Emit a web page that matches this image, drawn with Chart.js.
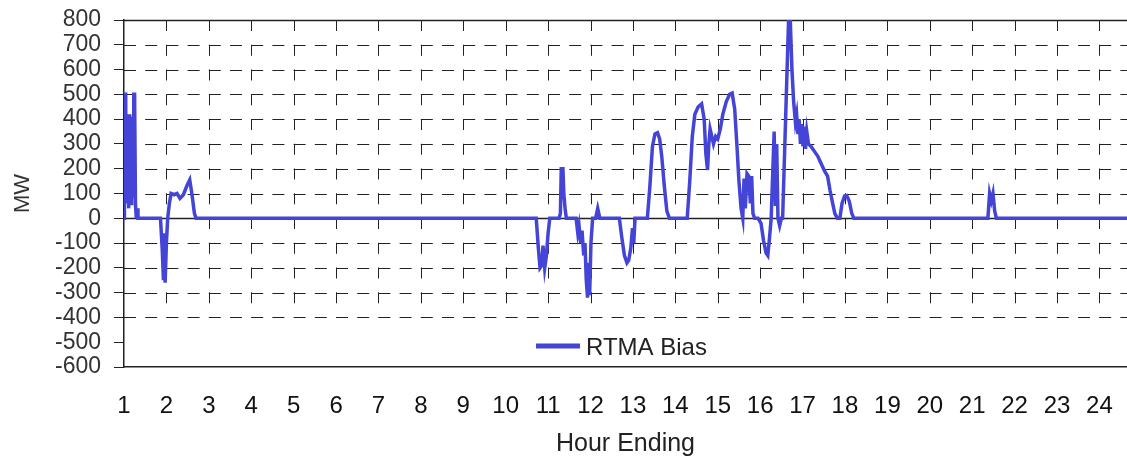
<!DOCTYPE html>
<html>
<head>
<meta charset="utf-8">
<title>RTMA Bias</title>
<script src="https://cdn.jsdelivr.net/npm/chart.js@4/dist/chart.umd.min.js"></script>
<style>
  body { margin: 0; background: #fff; }
  #wrap { width: 1127px; height: 460px; }
</style>
</head>
<body>
<div id="wrap"><canvas id="biasChart" width="1127" height="460"></canvas></div>
<script>
// hour of day (fractional) and RTMA bias in MW
const hours = [
  1.00, 1.005, 1.015, 1.04, 1.05, 1.06, 1.07, 1.08, 1.09, 1.10, 1.11, 1.12, 1.13, 1.14, 1.15, 1.16, 1.17, 1.18,
  1.19, 1.20, 1.21, 1.22, 1.23, 1.25, 1.27, 1.29, 1.31, 1.33,
  1.86, 1.90, 1.93, 1.95, 1.97, 2.00, 2.03, 2.07, 2.11, 2.18, 2.25, 2.32, 2.40, 2.48, 2.55, 2.60, 2.66, 2.70,
  10.72, 10.77, 10.81, 10.85, 10.88, 10.92, 10.96, 11.00, 11.04,
  11.26, 11.29, 11.31, 11.35, 11.37, 11.40, 11.43,
  11.66, 11.70, 11.73, 11.77, 11.80, 11.84, 11.87, 11.90, 11.93, 11.95, 11.98, 12.01, 12.05, 12.12, 12.17, 12.22,
  12.68, 12.74, 12.80, 12.86, 12.90, 12.95, 12.99, 13.02, 13.05,
  13.34, 13.40, 13.46, 13.52, 13.58, 13.63, 13.68, 13.74, 13.80, 13.86,
  14.28, 14.34, 14.40, 14.46, 14.54, 14.62, 14.68, 14.72, 14.76, 14.79, 14.82, 14.86, 14.90, 14.95, 15.00,
  15.06, 15.12, 15.20, 15.28, 15.34, 15.40, 15.45, 15.50, 15.55, 15.59,
  15.62, 15.65, 15.69, 15.73, 15.77, 15.80, 15.83, 15.87, 15.95, 16.02, 16.08, 16.14, 16.18, 16.22, 16.26,
  16.29, 16.33, 16.36, 16.39, 16.42, 16.46, 16.50, 16.53,
  16.60, 16.67, 16.71, 16.75, 16.79, 16.83, 16.86, 16.89, 16.92, 16.95, 16.98, 17.01, 17.04, 17.07, 17.10,
  17.14, 17.20, 17.28, 17.36, 17.44, 17.52, 17.59, 17.65, 17.71, 17.76, 17.82,
  17.88, 17.93, 17.99, 18.04, 18.10, 18.16, 18.21,
  21.37, 21.41, 21.45, 21.49, 21.53, 21.57,
  24.65
];
const biasMW = [
  0, 400, 500, 500, 120, 400, 60, 410, 100, 400, 40, 420, 80, 400, 120, 410, 60, 400,
  90, 410, 100, 380, 500, 500, 60, 0, 40, 0,
  0, -120, -250, -60, -260, -100, 0, 60, 100, 95, 100, 80, 95, 130, 155, 100, 20, 0,
  0, -120, -200, -190, -110, -200, -150, -60, 0,
  0, 20, 200, 200, 100, 40, 0,
  0, -60, -30, -100, -50, -150, -100, -250, -320, -180, -310, -100, 0, 0, 40, 0,
  0, -80, -150, -180, -170, -120, -40, -100, 0,
  0, 130, 290, 340, 345, 320, 250, 130, 30, 0,
  0, 150, 330, 420, 450, 462, 400, 260, 195, 300, 360, 330, 300, 330, 320,
  360, 420, 470, 500, 505, 440, 300, 150, 40, 0,
  160, 40, 180, 170, 60, 170, 20, 0, 0, -20, -90, -140, -150, -80, 0,
  150, 350, 50, 300, 0, -30, 0, 0,
  400, 800, 800, 600, 470, 390, 420, 340, 400, 300, 380, 290, 370, 280, 350,
  300, 290, 270, 250, 220, 190, 170, 110, 60, 20, 0,
  0, 60, 90, 92, 70, 20, 0,
  0, 100, 70, 100, 30, 0,
  0
];

const hourTicks = [1, 2, 3, 4, 5, 6, 7, 8, 9, 10, 11, 12, 13, 14, 15, 16, 17, 18, 19, 20, 21, 22, 23, 24];
const dashedRows = [700, 600, 500, 400, 300, 200, 100, -100, -200, -300, -400];
const seriesLabel = 'RTMA Bias';
const lineBlue = '#4444d6';

Chart.defaults.font.family = '"Liberation Sans", Arial, sans-serif';

// dashed grid like the old spreadsheet chart: verticals stop at -400, no line at -500
const dashGrid = {
  id: 'dashGrid',
  beforeDatasetsDraw(chart) {
    const { ctx, chartArea, scales: { x, y } } = chart;
    ctx.save();
    ctx.strokeStyle = '#222';
    ctx.lineWidth = 1;
    ctx.setLineDash([12, 9.2]);
    dashedRows.forEach(v => {
      const py = Math.round(y.getPixelForValue(v)) + 0.5;
      ctx.beginPath();
      ctx.moveTo(chartArea.left, py);
      ctx.lineTo(chartArea.right, py);
      ctx.stroke();
    });
    ctx.setLineDash([11, 13.75]);
    const yTop = y.getPixelForValue(800), yLow = y.getPixelForValue(-400);
    hourTicks.slice(1).forEach(h => {
      const px = Math.round(x.getPixelForValue(h)) + 0.5;
      ctx.beginPath();
      ctx.moveTo(px, yTop);
      ctx.lineTo(px, yLow);
      ctx.stroke();
    });
    ctx.setLineDash([]);
    ctx.lineWidth = 1.5;
    [800, 0].forEach(v => {
      const py = Math.round(y.getPixelForValue(v)) + 0.5;
      ctx.beginPath();
      ctx.moveTo(chartArea.left, py);
      ctx.lineTo(chartArea.right, py);
      ctx.stroke();
    });
    ctx.restore();
  }
};

// legend sits inside the plot, near the bottom
const innerLegend = {
  id: 'innerLegend',
  afterDatasetsDraw(chart) {
    const { ctx, chartArea } = chart;
    const lx = chartArea.left + 412, ly = chartArea.bottom - 21;
    ctx.save();
    ctx.strokeStyle = lineBlue;
    ctx.lineWidth = 5;
    ctx.beginPath();
    ctx.moveTo(lx, ly);
    ctx.lineTo(lx + 44, ly);
    ctx.stroke();
    ctx.fillStyle = '#222';
    ctx.font = '24px "Liberation Sans", Arial, sans-serif';
    ctx.textBaseline = 'middle';
    ctx.fillText(chart.data.datasets[0].label, lx + 50, ly + 2);
    ctx.restore();
  }
};

new Chart(document.getElementById('biasChart'), {
  type: 'line',
  data: {
    datasets: [{
      label: seriesLabel,
      data: hours.map((h, i) => ({ x: h, y: biasMW[i] })),
      borderColor: lineBlue,
      borderWidth: 3.5,
      pointRadius: 0,
      tension: 0,
      fill: false
    }]
  },
  options: {
    responsive: false,
    animation: false,
    layout: { padding: { top: 20, right: 0, bottom: 0, left: 0 } },
    plugins: {
      legend: { display: false },
      tooltip: { enabled: false }
    },
    scales: {
      x: {
        type: 'linear',
        min: 1,
        max: 24.65,
        afterBuildTicks: s => { s.ticks = hourTicks.map(v => ({ value: v })); },
        afterFit: s => { s.height = 93; s.paddingLeft = 0; s.paddingRight = 0; },
        grid: { display: false, drawTicks: false },
        border: { display: true, color: '#222', width: 1.5 },
        ticks: {
          autoSkip: false,
          maxRotation: 0,
          padding: 25,
          color: '#111',
          font: { size: 24 },
          callback: v => String(v)
        },
        title: {
          display: true,
          text: 'Hour Ending',
          color: '#222',
          font: { size: 25 },
          padding: { top: 0, bottom: 1 }
        }
      },
      y: {
        min: -600,
        max: 800,
        afterFit: s => { s.width = 124; s.paddingTop = 0; s.paddingBottom = 0; },
        grid: { drawOnChartArea: false, drawTicks: true, tickLength: 10, tickColor: '#222' },
        border: { display: true, color: '#222', width: 1.5 },
        ticks: {
          stepSize: 100,
          autoSkip: false,
          padding: 13,
          color: '#333',
          font: { size: 23 },
          callback: v => String(v)
        },
        title: {
          display: true,
          text: 'MW',
          color: '#333',
          font: { size: 22 },
          padding: { top: 10, bottom: 0 }
        }
      }
    }
  },
  plugins: [dashGrid, innerLegend]
});
</script>
</body>
</html>
